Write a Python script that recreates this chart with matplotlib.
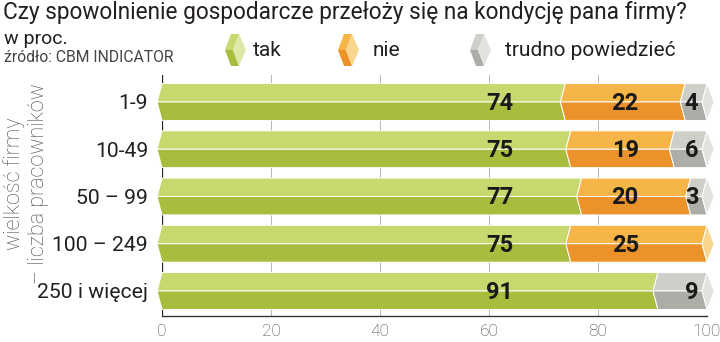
import matplotlib
matplotlib.use('Agg')

import matplotlib.pyplot as plt
from matplotlib.patches import Polygon

plt.rcParams['font.family'] = ['Roboto', 'DejaVu Sans']

title = 'Czy spowolnienie gospodarcze przełoży się na kondycję pana firmy?'
unit = 'w proc.'
source = 'źródło: CBM INDICATOR'
ylabel = 'wielkość firmy\n– liczba pracowników'

sizes = ['1-9', '10-49', '50 – 99', '100 – 249', '250 i więcej']
tak = [74, 75, 77, 75, 91]
nie = [22, 19, 20, 25, 0]
trudno = [4, 6, 3, 0, 9]
names = ['tak', 'nie', 'trudno powiedzieć']
xticks = [0, 20, 40, 60, 80, 100]

top_colors = ['#c6d86e', '#f5b547', '#cfcfca']
bottom_colors = ['#aabc3e', '#eb932a', '#adada7']
cap_colors = ['#dde9a8', '#f9d58d', '#e2e2df']
label_x = [62, 85, 98.4]
label_ha = ['center', 'center', 'right']

d = 0.9    # depth of the chevron notch (x units)
e = 1.3    # tip of the end cap beyond the last value
h = 0.39   # half bar height (row units)

fig = plt.figure(figsize=(7.2, 3.42), dpi=100)

# overlay in pixel coords for titles and legend
over = fig.add_axes([0, 0, 1, 1])
over.set_xlim(0, 720)
over.set_ylim(342, 0)
over.axis('off')

over.text(3, 13, title, fontsize=16.3, color='#231f20', va='center', ha='left')
over.text(4, 39, unit, fontsize=14, color='#231f20', va='center', ha='left')
over.text(4, 58, source, fontsize=11.3, color='#444444', va='center', ha='left')

legend_x = [225, 338, 470]
legend_tx = [253, 373, 505]
yc = 50
for i in range(3):
    x0 = legend_x[i]
    over.add_patch(Polygon([(x0, yc), (x0 + 6, yc - 16), (x0 + 14, yc - 16), (x0 + 8, yc)],
                           closed=True, facecolor=top_colors[i], edgecolor='none'))
    over.add_patch(Polygon([(x0, yc), (x0 + 8, yc), (x0 + 14, yc + 16), (x0 + 6, yc + 16)],
                           closed=True, facecolor=bottom_colors[i], edgecolor='none'))
    over.add_patch(Polygon([(x0 + 14, yc - 16), (x0 + 21, yc), (x0 + 14, yc + 16), (x0 + 8, yc)],
                           closed=True, facecolor=cap_colors[i], edgecolor='none'))
    over.text(legend_tx[i], yc, names[i], fontsize=15, color='#231f20', va='center', ha='left')

over.text(26, 184, ylabel, fontsize=15.5, color='#4a4a4a', rotation=90, va='center', ha='center',
          multialignment='center', linespacing=1.2, weight='light')

ax = fig.add_axes([162 / 720, 1 - 316 / 342, (707 - 162) / 720, (316 - 75) / 342])
ax.patch.set_alpha(0)
ax.set_xlim(0, 100)
ax.set_ylim(4 + 25 / 47.25, -27 / 47.25)

for t in xticks:
    ax.axvline(t, color='#222222' if t == 0 else '#b5b5b5', lw=0.9 if t == 0 else 0.7, zorder=0)

series = [tak, nie, trudno]
for r in range(len(sizes)):
    x0 = 0
    last = 0
    for s in range(3):
        v = series[s][r]
        if v == 0:
            continue
        x1 = x0 + v
        top = [(x0, r - h), (x0 - d, r), (x1 - d, r), (x1, r - h)]
        bot = [(x0 - d, r), (x0, r + h), (x1, r + h), (x1 - d, r)]
        ax.add_patch(Polygon(top, closed=True, facecolor=top_colors[s], edgecolor='white',
                             lw=0.7, zorder=2, clip_on=False))
        ax.add_patch(Polygon(bot, closed=True, facecolor=bottom_colors[s], edgecolor='white',
                             lw=0.7, zorder=2, clip_on=False))
        ax.text(label_x[s], r + 0.03, str(v), fontsize=17, weight='bold', color='#1a1a1a',
                ha=label_ha[s], va='center', zorder=4)
        x0 = x1
        last = s
    cap = [(x0, r - h), (x0 + e, r), (x0, r + h), (x0 - d, r)]
    ax.add_patch(Polygon(cap, closed=True, facecolor=cap_colors[last], edgecolor='white',
                         lw=0.7, zorder=2, clip_on=False))

for sp in ['top', 'right', 'left']:
    ax.spines[sp].set_visible(False)
ax.spines['bottom'].set_color('#333333')
ax.spines['bottom'].set_linewidth(1.0)

ax.set_xticks(xticks)
ax.set_xticklabels([str(t) for t in xticks], fontsize=12.5, color='#444444', weight='light')
ax.tick_params(axis='x', length=0, pad=6)
ax.set_yticks(range(len(sizes)))
ax.set_yticklabels(sizes, fontsize=15.2, color='#231f20')
ax.tick_params(axis='y', length=0, pad=10)

plt.savefig('out.png', dpi=100)
plt.close('all')
